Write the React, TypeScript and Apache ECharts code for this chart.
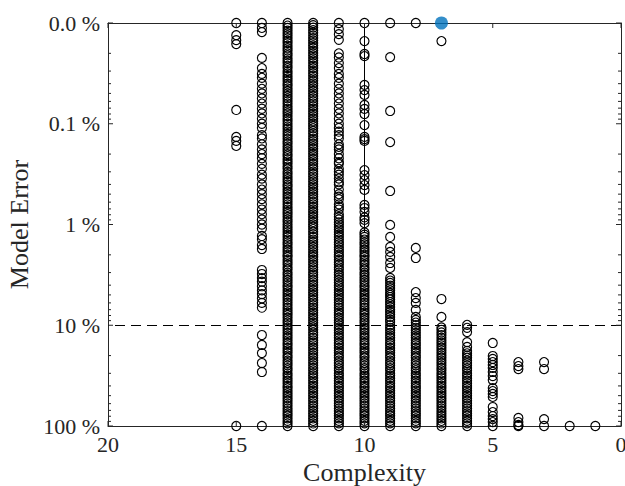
import React, { useEffect, useRef } from "react";
import * as echarts from "echarts";

const FONT = '"Liberation Serif", "Times New Roman", serif';
const AX = "#262626";

// Model error (%) of each candidate model, grouped by complexity
const c15 = [0.01, 0.0132, 0.0148, 0.0162, 0.073, 0.135, 0.148, 0.166, 100];
const c14 = [0.01, 0.0112, 0.0123, 0.0222, 0.028, 0.032, 0.035, 0.04, 0.045, 0.05, 0.056, 0.063, 0.071, 0.079, 0.089,
  0.1, 0.11, 0.13, 0.14, 0.16, 0.18, 0.2, 0.22, 0.25, 0.28, 0.32, 0.35, 0.4, 0.45, 0.5, 0.56, 0.63, 0.71, 0.79, 0.89,
  1, 1.1, 1.3, 1.4, 1.6, 1.75, 2.83, 3.1, 3.4, 3.7, 4.1, 4.5, 4.9, 5.4, 6, 6.7, 12.5, 15.7, 18.9, 23.7, 29.1, 100];
const c13 = [
  0.01, 0.0106, 0.0112, 0.0119, 0.0126, 0.0133, 0.0141, 0.015, 0.0158, 0.0168, 0.0178, 0.0188, 0.02, 0.021, 0.0224, 0.0237, 0.025, 0.0266, 0.028, 0.03,
  0.0316, 0.0335, 0.0355, 0.0376, 0.04, 0.042, 0.0447, 0.0473, 0.05, 0.053, 0.056, 0.0596, 0.063, 0.067, 0.071, 0.075, 0.079, 0.084, 0.089, 0.094,
  0.1, 0.106, 0.112, 0.119, 0.126, 0.133, 0.141, 0.15, 0.158, 0.168, 0.178, 0.188, 0.2, 0.21, 0.224, 0.237, 0.25, 0.266, 0.28, 0.3,
  0.316, 0.335, 0.355, 0.376, 0.4, 0.42, 0.447, 0.473, 0.5, 0.53, 0.56, 0.596, 0.63, 0.67, 0.71, 0.75, 0.79, 0.84, 0.89, 0.94,
  1, 1.06, 1.12, 1.19, 1.26, 1.33, 1.41, 1.5, 1.58, 1.68, 1.78, 1.88, 2, 2.1, 2.24, 2.37, 2.5, 2.66, 2.8, 3,
  3.16, 3.35, 3.55, 3.76, 4, 4.2, 4.47, 4.73, 5, 5.3, 5.6, 5.96, 6.3, 6.7, 7.1, 7.5, 7.9, 8.4, 8.9, 9.4,
  10, 10.6, 11.2, 11.9, 12.6, 13.3, 14.1, 15, 15.8, 16.8, 17.8, 18.8, 20, 21, 22.4, 23.7, 25, 26.6, 28, 30,
  31.6, 33.5, 35.5, 37.6, 40, 42, 44.7, 47.3, 50, 53, 56, 59.6, 63, 67, 71, 75, 79, 84, 89, 94, 100];
const c12 = [
  0.01, 0.0105, 0.0111, 0.0118, 0.0125, 0.0133, 0.0141, 0.0149, 0.0158, 0.0167, 0.0177, 0.0188, 0.0199, 0.021, 0.0223, 0.0236, 0.025, 0.0265, 0.028, 0.0298,
  0.0315, 0.0334, 0.0354, 0.0375, 0.0398, 0.042, 0.0446, 0.0472, 0.05, 0.053, 0.0561, 0.0595, 0.063, 0.0668, 0.0708, 0.075, 0.0794, 0.0841, 0.0891, 0.0944,
  0.1, 0.105, 0.111, 0.118, 0.125, 0.133, 0.141, 0.149, 0.158, 0.167, 0.177, 0.188, 0.199, 0.21, 0.223, 0.236, 0.25, 0.265, 0.28, 0.298,
  0.315, 0.334, 0.354, 0.375, 0.398, 0.42, 0.446, 0.472, 0.5, 0.53, 0.561, 0.595, 0.63, 0.668, 0.708, 0.75, 0.794, 0.841, 0.891, 0.944,
  1, 1.05, 1.11, 1.18, 1.25, 1.33, 1.41, 1.49, 1.58, 1.67, 1.77, 1.88, 1.99, 2.1, 2.23, 2.36, 2.5, 2.65, 2.8, 2.98,
  3.15, 3.34, 3.54, 3.75, 3.98, 4.2, 4.46, 4.72, 5, 5.3, 5.61, 5.95, 6.3, 6.68, 7.08, 7.5, 7.94, 8.41, 8.91, 9.44,
  10, 10.5, 11.1, 11.8, 12.5, 13.3, 14.1, 14.9, 15.8, 16.7, 17.7, 18.8, 19.9, 21, 22.3, 23.6, 25, 26.5, 28, 29.8,
  31.5, 33.4, 35.4, 37.5, 39.8, 42, 44.6, 47.2, 50, 53, 56.1, 59.5, 63, 66.8, 70.8, 75, 79.4, 84.1, 89.1, 94.4, 100];
const c11 = [0.01, 0.0115, 0.0129, 0.0147, 0.02, 0.022, 0.025, 0.028, 0.032, 0.035, 0.04, 0.045, 0.05, 0.056, 0.063, 0.071, 0.079, 0.089,
  0.1, 0.11, 0.12, 0.13, 0.14, 0.16, 0.17, 0.18, 0.2, 0.22, 0.24, 0.25, 0.28, 0.3, 0.32, 0.35, 0.38, 0.4, 0.45, 0.5, 0.53, 0.56, 0.63, 0.67, 0.71, 0.79, 0.84, 0.89, 0.95,
  1, 1.06, 1.12, 1.19, 1.26, 1.33, 1.41, 1.5, 1.58, 1.68, 1.78, 1.88, 2, 2.1, 2.24, 2.37, 2.5, 2.66, 2.8, 3,
  3.16, 3.35, 3.55, 3.76, 4, 4.2, 4.47, 4.73, 5, 5.3, 5.6, 5.96, 6.3, 6.7, 7.1, 7.5, 7.9, 8.4, 8.9, 9.4,
  10, 10.6, 11.2, 11.9, 12.6, 13.3, 14.1, 15, 15.8, 16.8, 17.8, 18.8, 20, 21, 22.4, 23.7, 25, 26.6, 28, 30,
  31.6, 33.5, 35.5, 37.6, 40, 42, 44.7, 47.3, 50, 53, 56, 59.6, 63, 67, 71, 75, 79, 84, 89, 94, 100];
const c10 = [0.01, 0.0151, 0.0203, 0.0213, 0.0412, 0.0463, 0.0518, 0.065, 0.0713, 0.08, 0.103, 0.135, 0.142, 0.148,
  0.288, 0.323, 0.362, 0.406, 0.454, 0.64, 0.686, 0.75, 0.85, 0.9, 0.97,
  1.2, 1.26, 1.33, 1.41, 1.5, 1.58, 1.68, 1.78, 1.88, 2, 2.1, 2.24, 2.37, 2.5, 2.66, 2.8, 3,
  3.16, 3.35, 3.55, 3.76, 4, 4.2, 4.47, 4.73, 5, 5.3, 5.6, 5.96, 6.3, 6.7, 7.1, 7.5, 7.9, 8.4, 8.9, 9.4,
  10, 10.6, 11.2, 11.9, 12.6, 13.3, 14.1, 15, 15.8, 16.8, 17.8, 18.8, 20, 21, 22.4, 23.7, 25, 26.6, 28, 30,
  31.6, 33.5, 35.5, 37.6, 40, 42, 44.7, 47.3, 50, 53, 56, 59.6, 63, 67, 71, 75, 79, 84, 89, 94, 100];
const c9 = [0.01, 0.0218, 0.0747, 0.152, 0.465, 1.01, 1.33, 1.67, 1.87, 2.1, 2.41, 2.7, 3.39, 3.6, 3.8, 4.05, 4.27, 4.5, 4.78, 5.0, 5.25, 5.55, 5.88, 6.2, 6.59, 7.0, 7.38, 7.8, 8.27, 8.8, 9.27,
  10, 10.6, 11.2, 11.9, 12.6, 13.3, 14.1, 15, 15.8, 16.8, 17.8, 18.8, 20, 21, 22.4, 23.7, 25, 26.6, 28, 30,
  31.6, 33.5, 35.5, 37.6, 40, 42, 44.7, 47.3, 50, 53, 56, 59.6, 63, 67, 71, 75, 79, 84, 89, 94, 100];
const c8 = [0.01, 1.71, 2.15, 4.68, 5.37, 6.0, 7.05, 8.27, 8.86, 9.4,
  10, 10.6, 11.2, 11.9, 12.6, 13.3, 14.1, 15, 15.8, 16.8, 17.8, 18.8, 20, 21, 22.4, 23.7, 25, 26.6, 28, 30,
  31.6, 33.5, 35.5, 37.6, 40, 42, 44.7, 47.3, 50, 53, 56, 59.6, 63, 67, 71, 75, 79, 84, 89, 94, 100];
const c7 = [0.0151, 5.49, 8.27, 10.5, 11.1, 11.8, 12.5, 13.3, 14.1, 14.9, 15.8, 16.7, 17.7, 18.8, 19.9, 21, 22.3, 23.6, 25, 26.5, 28, 29.8,
  31.5, 33.4, 35.4, 37.5, 39.8, 42, 44.6, 47.2, 50, 53, 56.1, 59.5, 63, 66.8, 70.8, 75, 79.4, 84.1, 89.1, 94.4, 100];
const c6 = [9.9, 10.6, 11.7, 14.7, 16.4, 18, 19, 20, 21, 22.4, 23.7, 25, 26.6, 28, 30,
  31.6, 33.5, 35.5, 37.6, 40, 42, 44.7, 47.3, 50, 53, 56, 59.6, 63, 67, 71, 75, 79, 84, 89, 94, 100];
const c5 = [15, 20.2, 21.6, 23.2, 24.8, 26.5, 29.1, 31.9, 35, 42, 45, 48.1, 51.5, 64.8, 72.7, 79.7, 85.4, 91.4, 100];
const c4 = [23.2, 25.4, 27.2, 83.2, 91.4, 97.7, 100];
const c3 = [23.2, 27.2, 85.4, 100];
const c2 = [100];
const c1 = [100];

const complexities = [15, 14, 13, 12, 11, 10, 9, 8, 7, 6, 5, 4, 3, 2, 1];
const errorsByComplexity = [c15, c14, c13, c12, c11, c10, c9, c8, c7, c6, c5, c4, c3, c2, c1];

// Selected model
const bestComplexity = 7;
const bestError = 0.01;

// Vertical trace at complexity 10
const traceComplexity = 10;
const traceRange = [0.01, 1.2];

const threshold = 10;

const xMin = 0;
const xMax = 20;
const yMin = 0.01;
const yMax = 100;
const xTicks = [20, 15, 10, 5, 0];
const majorTicks = [0.01, 0.1, 1, 10, 100];
const minorTicks = [0.02, 0.03, 0.04, 0.05, 0.06, 0.07, 0.08, 0.09,
  0.2, 0.3, 0.4, 0.5, 0.6, 0.7, 0.8, 0.9,
  2, 3, 4, 5, 6, 7, 8, 9,
  20, 30, 40, 50, 60, 70, 80, 90];

const fmtY = (v: number) => {
  if (v < 0.05) return "0.0 %";
  if (v < 1) return v.toFixed(1) + " %";
  return Math.round(v) + " %";
};

export default function App() {
  const ref = useRef<HTMLDivElement>(null);
  useEffect(() => {
    document.body.style.margin = "0";
    const chart = echarts.init(ref.current!, null, { renderer: "svg" });
    const points: number[][] = [];
    complexities.forEach((c, i) => {
      errorsByComplexity[i].forEach((e) => points.push([c, e]));
    });
    const yTickData = [
      ...majorTicks.map((v) => [xMax, v, 5]),
      ...minorTicks.map((v) => [xMax, v, 3]),
    ];
    const xTickData = xTicks.map((v) => [v, yMin]);
    const tickStyle = { stroke: AX, lineWidth: 1 };
    const lineStyle = { color: AX, width: 1 };
    chart.setOption({
      animation: false,
      backgroundColor: "#ffffff",
      grid: { left: 108, right: 4, top: 23, bottom: 60, outerBoundsMode: "none", containLabel: false },
      xAxis: [
        {
          type: "value", min: xMin, max: xMax, interval: 5, inverse: true,
          position: "bottom",
          splitLine: { show: false },
          axisLine: { show: true, onZero: false, lineStyle },
          axisTick: { show: false },
          axisLabel: { show: true, fontFamily: FONT, fontSize: 22, color: AX, margin: 7 },
          name: "Complexity",
          nameLocation: "middle",
          nameGap: 32,
          nameTextStyle: { fontFamily: FONT, fontSize: 26, color: AX },
        },
        {
          type: "value", min: xMin, max: xMax, interval: 5, inverse: true,
          position: "top",
          splitLine: { show: false },
          axisLine: { show: true, onZero: false, lineStyle },
          axisTick: { show: false },
          axisLabel: { show: false },
        },
      ],
      yAxis: [
        {
          type: "log", logBase: 10, min: yMin, max: yMax, inverse: true,
          position: "left",
          splitLine: { show: false },
          minorSplitLine: { show: false },
          axisLine: { show: true, onZero: false, lineStyle },
          axisTick: { show: false },
          axisLabel: { show: true, customValues: majorTicks, formatter: fmtY, fontFamily: FONT, fontSize: 22, color: AX, margin: 8 },
          name: "Model Error",
          nameLocation: "middle",
          nameGap: 67,
          nameTextStyle: { fontFamily: FONT, fontSize: 26, color: AX },
        },
        {
          type: "log", logBase: 10, min: yMin, max: yMax, inverse: true,
          position: "right",
          splitLine: { show: false },
          minorSplitLine: { show: false },
          axisLine: { show: true, onZero: false, lineStyle },
          axisTick: { show: false },
          axisLabel: { show: false },
        },
      ],
      series: [
        {
          type: "custom",
          xAxisIndex: 0,
          yAxisIndex: 0,
          data: yTickData,
          clip: false,
          silent: true,
          z: 6,
          renderItem: (_p: any, api: any) => {
            const v = api.value(1);
            const len = api.value(2);
            const l = api.coord([xMax, v]);
            const r = api.coord([xMin, v]);
            return {
              type: "group",
              children: [
                { type: "line", shape: { x1: l[0], y1: l[1], x2: l[0] + len, y2: l[1] }, style: tickStyle },
                { type: "line", shape: { x1: r[0], y1: r[1], x2: r[0] - len, y2: r[1] }, style: tickStyle },
              ],
            };
          },
        },
        {
          type: "custom",
          xAxisIndex: 0,
          yAxisIndex: 0,
          data: xTickData,
          clip: false,
          silent: true,
          z: 6,
          renderItem: (_p: any, api: any) => {
            const x = api.value(0);
            const t = api.coord([x, yMin]);
            const b = api.coord([x, yMax]);
            return {
              type: "group",
              children: [
                { type: "line", shape: { x1: t[0], y1: t[1], x2: t[0], y2: t[1] + 5 }, style: tickStyle },
                { type: "line", shape: { x1: b[0], y1: b[1], x2: b[0], y2: b[1] - 5 }, style: tickStyle },
              ],
            };
          },
        },
        {
          type: "line",
          xAxisIndex: 0,
          yAxisIndex: 0,
          data: [[traceComplexity, traceRange[0]], [traceComplexity, traceRange[1]]],
          symbol: "none",
          lineStyle: { color: "#000", width: 1 },
          z: 2,
          silent: true,
          markLine: {
            silent: true,
            symbol: ["none", "none"],
            label: { show: false },
            lineStyle: { color: "#000", width: 1, type: [10, 6] },
            data: [{ yAxis: threshold }],
          },
        },
        {
          type: "scatter",
          xAxisIndex: 0,
          yAxisIndex: 0,
          data: points,
          symbol: "circle",
          symbolSize: 9,
          clip: false,
          large: false,
          itemStyle: { color: "rgba(0,0,0,0)", borderColor: "#000", borderWidth: 1.15, opacity: 1 },
          z: 3,
          silent: true,
        },
        {
          type: "scatter",
          xAxisIndex: 0,
          yAxisIndex: 0,
          data: [[bestComplexity, bestError]],
          symbol: "circle",
          symbolSize: 13,
          clip: false,
          itemStyle: { color: "#0072BD", borderWidth: 0 },
          z: 5,
          silent: true,
        },
      ],
    });
    return () => chart.dispose();
  }, []);
  return <div ref={ref} style={{ width: 625, height: 486 }} />;
}
